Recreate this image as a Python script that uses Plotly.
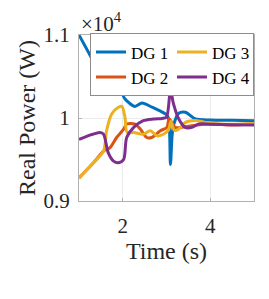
import plotly.graph_objects as go

# Time (s) and real power (W) per DG
t_dg1 = [1.0, 1.25, 1.52, 1.66, 1.9, 2.05, 2.15, 2.28, 2.44, 2.67, 2.85, 3.0, 3.05, 3.09, 3.13, 3.17, 3.28, 3.43, 3.66, 4.0, 4.5, 5.0]
p_dg1 = [11000, 10760, 10496, 10620, 10395, 10230, 10180, 10140, 10180, 10130, 10085, 10040, 9990, 9440, 9800, 9930, 10057, 10070, 9988, 9976, 9972, 9968]

t_dg2 = [1.0, 1.33, 1.56, 1.71, 1.86, 2.02, 2.09, 2.28, 2.4, 2.55, 2.66, 2.86, 3.01, 3.06, 3.2, 3.35, 3.58, 3.97, 4.5, 5.0]
p_dg2 = [9277, 9460, 9600, 9643, 9765, 9866, 9927, 9927, 9866, 9765, 9765, 9846, 9887, 9990, 9887, 9887, 9907, 9927, 9915, 9930]

t_dg3 = [1.0, 1.33, 1.56, 1.63, 1.75, 1.9, 1.98, 2.05, 2.1, 2.25, 2.47, 2.63, 2.78, 2.95, 3.05, 3.1, 3.18, 3.28, 3.43, 3.66, 4.0, 4.5, 5.0]
p_dg3 = [9277, 9460, 9600, 9846, 10050, 10130, 10140, 10010, 9826, 9826, 9805, 9846, 9785, 9810, 9860, 9960, 9850, 9866, 9948, 9970, 9935, 9925, 9935]

t_dg4 = [1.0, 1.48, 1.56, 1.67, 1.79, 1.9, 2.02, 2.09, 2.25, 2.47, 2.7, 2.9, 3.0, 3.09, 3.16, 3.28, 3.43, 3.58, 3.74, 4.0, 4.5, 5.0]
p_dg4 = [9744, 9826, 9805, 9580, 9480, 9460, 9500, 9765, 9887, 9968, 9988, 9995, 10010, 10334, 10170, 9988, 9887, 9887, 9927, 9925, 9920, 9917]

names = ["DG 1", "DG 2", "DG 3", "DG 4"]
colors = ["#0072BD", "#D95319", "#EDB120", "#7E2F8E"]
legend_ranks = [1, 3, 2, 4]

x_ticks = [2, 4]
y_ticks = [9000, 10000, 11000]
y_ticktext = ["0.9", "1", "1.1"]

FONT = "Liberation Serif, Times New Roman, Times, serif"
TXT = "#262626"

fig = go.Figure()
series = [(t_dg1, p_dg1), (t_dg2, p_dg2), (t_dg3, p_dg3), (t_dg4, p_dg4)]
for (t, p), name, c, r in zip(series, names, colors, legend_ranks):
    fig.add_trace(go.Scatter(
        x=t, y=p, name=name, mode="lines",
        line=dict(color=c, width=3, shape="spline", smoothing=0.8),
        legendrank=r,
    ))

fig.update_layout(
    width=269, height=299,
    margin=dict(l=71, r=23, t=27, b=106),
    paper_bgcolor="white", plot_bgcolor="white",
    font=dict(family=FONT, color=TXT, size=21),
    showlegend=True,
    legend=dict(
        orientation="h", x=1, xanchor="right", y=1.01, yanchor="top",
        entrywidth=36, entrywidthmode="pixels",
        font=dict(family=FONT, size=17, color="black"),
        bgcolor="white", bordercolor="#8c8c8c", borderwidth=1,
        tracegroupgap=0, itemwidth=30,
    ),
    xaxis=dict(
        range=[1, 5], tickvals=x_ticks, ticks="inside", ticklen=3,
        tickcolor="#b0b0b0", showline=True, linecolor="#b0b0b0", linewidth=1,
        mirror=True, showgrid=True, gridcolor="#ebebeb", zeroline=False,
        tickfont=dict(size=21, color=TXT, family=FONT), ticklabelstandoff=6,
        title=dict(text="Time (s)", font=dict(size=24, color=TXT, family=FONT), standoff=1),
    ),
    yaxis=dict(
        range=[9000, 11000], tickvals=y_ticks, ticktext=y_ticktext, ticks="inside",
        ticklen=3, tickcolor="#b0b0b0", showline=True, linecolor="#b0b0b0",
        linewidth=1, mirror=True, showgrid=True, gridcolor="#ebebeb", zeroline=False,
        tickfont=dict(size=21, color=TXT, family=FONT), ticklabelstandoff=4,
        title=dict(text="Real Power (W)", font=dict(size=24, color=TXT, family=FONT), standoff=1),
    ),
    annotations=[dict(
        text="×10<sup>4</sup>", xref="paper", yref="paper", x=0, y=1,
        xanchor="left", yanchor="bottom", showarrow=False,
        font=dict(size=21, color=TXT, family=FONT), yshift=-3,
    )],
)

fig.write_html("out.html")
